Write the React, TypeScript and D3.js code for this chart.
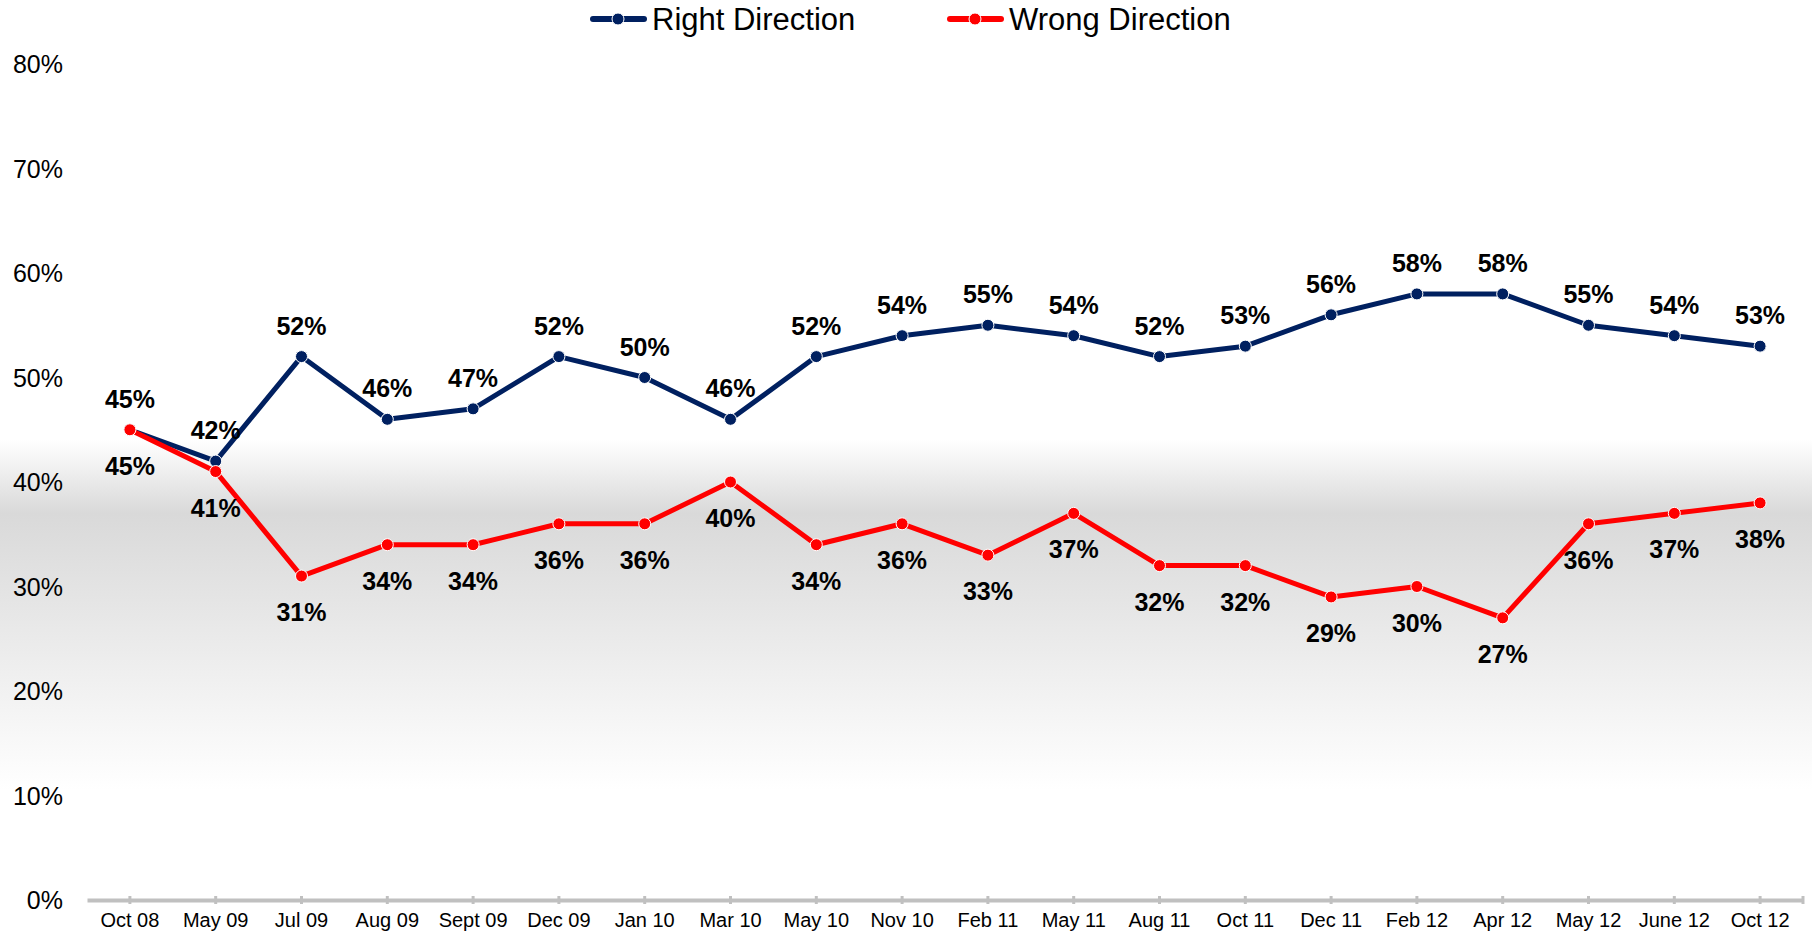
import * as d3 from 'd3'
import { useEffect, useRef } from 'react'

const categories = [
  'Oct 08', 'May 09', 'Jul 09', 'Aug 09', 'Sept 09', 'Dec 09', 'Jan 10', 'Mar 10', 'May 10', 'Nov 10',
  'Feb 11', 'May 11', 'Aug 11', 'Oct 11', 'Dec 11', 'Feb 12', 'Apr 12', 'May 12', 'June 12', 'Oct 12',
]
const rightDirection = [45, 42, 52, 46, 47, 52, 50, 46, 52, 54, 55, 54, 52, 53, 56, 58, 58, 55, 54, 53]
const wrongDirection = [45, 41, 31, 34, 34, 36, 36, 40, 34, 36, 33, 37, 32, 32, 29, 30, 27, 36, 37, 38]
const yTicks = [0, 10, 20, 30, 40, 50, 60, 70, 80]

const W = 1812
const H = 932
const FONT = "'Liberation Sans', Arial, sans-serif"

const series = [
  { name: 'Right Direction', values: rightDirection, color: '#002060', above: true, legendX: 590 },
  { name: 'Wrong Direction', values: wrongDirection, color: '#ff0000', above: false, legendX: 947 },
]

const App = () => {
  const svgRef = useRef<SVGSVGElement>(null)

  useEffect(() => {
    const svg = d3.select(svgRef.current)
    svg.selectAll('*').remove()

    // background band
    const grad = svg.append('defs').append('linearGradient')
      .attr('id', 'bgGrad').attr('x1', 0).attr('y1', 0).attr('x2', 0).attr('y2', 1)
    grad.append('stop').attr('offset', 0).attr('stop-color', '#ffffff')
    grad.append('stop').attr('offset', 0.21).attr('stop-color', '#d9d9d9')
    grad.append('stop').attr('offset', 1).attr('stop-color', '#ffffff')
    svg.append('rect').attr('x', 0).attr('y', 440).attr('width', W).attr('height', 350)
      .attr('fill', 'url(#bgGrad)')

    const x = d3.scaleBand().domain(categories).range([87, 1803])
    const cx = (c: string) => (x(c) as number) + x.bandwidth() / 2
    const y = d3.scaleLinear().domain([0, 80]).range([900, 64])

    // y labels
    svg.append('g').selectAll('text').data(yTicks).join('text')
      .attr('x', 63).attr('y', (d) => y(d) + 9)
      .attr('text-anchor', 'end')
      .style('font-family', FONT).style('font-size', '25px').attr('fill', '#000')
      .text((d) => d + '%')

    // x axis
    const xAxis = d3.axisBottom(x).tickSizeOuter(0).tickSize(0)
    const xAxisG = svg.append('g').attr('transform', 'translate(0, 900)')
    xAxis(xAxisG)
    xAxisG.select('.domain').attr('stroke', '#c0c0c0').attr('stroke-width', 4)
    xAxisG.selectAll('.tick line').remove()
    xAxisG.selectAll('text')
      .attr('y', 27).attr('dy', 0)
      .style('font-family', FONT).style('font-size', '20px').attr('fill', '#000')
    const tickPos = categories.map(cx).concat([1803])
    svg.append('g').selectAll('line').data(tickPos).join('line')
      .attr('x1', (d) => d).attr('x2', (d) => d).attr('y1', 896).attr('y2', 904)
      .attr('stroke', '#c0c0c0').attr('stroke-width', 3)

    const line = d3.line<number>().x((d, i) => cx(categories[i])).y((d) => y(d))

    series.forEach((s) => {
      const g = svg.append('g')
      g.append('path').datum(s.values).attr('d', line)
        .attr('fill', 'none').attr('stroke', s.color).attr('stroke-width', 5)
        .attr('stroke-linejoin', 'round')
      g.selectAll('circle').data(s.values).join('circle')
        .attr('cx', (d, i) => cx(categories[i])).attr('cy', (d) => y(d)).attr('r', 6)
        .attr('fill', s.color).attr('stroke', '#fff').attr('stroke-width', 1)
      g.selectAll('text').data(s.values).join('text')
        .attr('x', (d, i) => cx(categories[i]))
        .attr('y', (d) => (s.above ? y(d) - 22 : y(d) + 45))
        .attr('text-anchor', 'middle')
        .style('font-family', FONT).style('font-size', '25px').style('font-weight', 'bold')
        .attr('fill', '#000')
        .text((d) => d + '%')

      // legend
      const lg = svg.append('g')
      lg.append('line').attr('x1', s.legendX + 3).attr('x2', s.legendX + 54).attr('y1', 19).attr('y2', 19)
        .attr('stroke', s.color).attr('stroke-width', 6).attr('stroke-linecap', 'round')
      lg.append('circle').attr('cx', s.legendX + 28).attr('cy', 19).attr('r', 6)
        .attr('fill', s.color).attr('stroke', '#fff').attr('stroke-width', 1)
      lg.append('text')
        .attr('x', s.legendX + 62).attr('y', 30)
        .style('font-family', FONT).style('font-size', '31px').attr('fill', '#000')
        .text(s.name)
    })
  }, [])

  return (
    <svg ref={svgRef} width={W} height={H}
      style={{ position: 'absolute', left: 0, top: 0, background: '#fff' }}></svg>
  )
}
export default App
